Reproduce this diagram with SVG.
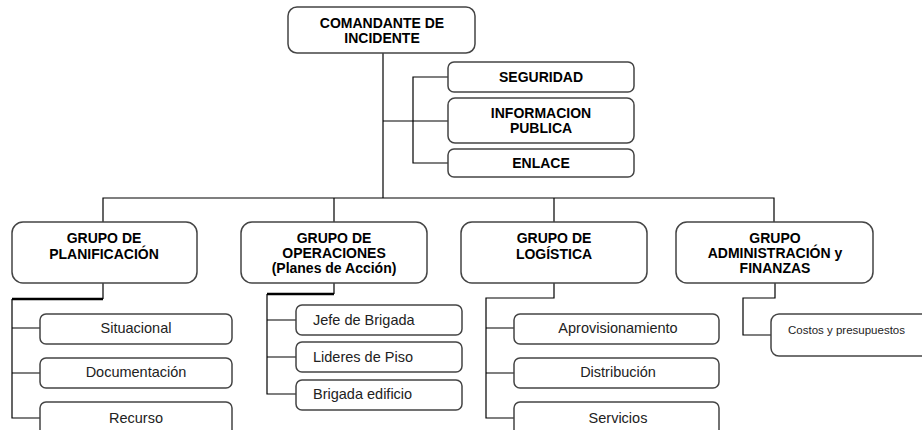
<svg xmlns="http://www.w3.org/2000/svg" width="922" height="430" viewBox="0 0 922 430">
<style>
.box{fill:#fff;stroke:#444;stroke-width:1.5}
.ln{fill:none;stroke:#000;stroke-width:1.2}
.thick{fill:none;stroke:#000;stroke-width:2.5}
.t{font-family:"Liberation Sans",Arial,sans-serif;font-weight:bold;font-size:14px;fill:#000;text-anchor:middle;dominant-baseline:central}
.s{font-family:"Liberation Sans",Arial,sans-serif;font-size:14.5px;fill:#222;text-anchor:middle;dominant-baseline:central}
.sl{font-family:"Liberation Sans",Arial,sans-serif;font-size:14.5px;fill:#222;dominant-baseline:central}
</style>
<rect width="922" height="430" fill="#fff"/>
<g id="connectors">
<path class="ln" d="M383,53V198"/>
<path class="ln" d="M448,77H413V163H448"/>
<path class="ln" d="M383,121H448"/>
<path class="ln" d="M103,222V198H774V222M334,198V222M554,198V222"/>
<path class="ln" d="M103,283V299"/>
<path class="thick" d="M103,299H12"/>
<path class="ln" d="M12,299V418H40M12,328H40M12,373H40"/>
<path class="ln" d="M334,283V294"/>
<path class="thick" d="M334,294H267"/>
<path class="ln" d="M267,294V394H296M267,320H296M267,357H296"/>
<path class="ln" d="M554,283V298H486V418H514M486,328H514M486,373H514"/>
<path class="ln" d="M775,283V298H743V335H771"/>
</g>
<g id="comandante">
<rect class="box" x="288" y="7" width="187" height="46" rx="9"/>
<text class="t" x="382" y="23">COMANDANTE DE</text>
<text class="t" x="382" y="37.5">INCIDENTE</text>
</g>
<g id="seguridad">
<rect class="box" x="448" y="62" width="186" height="30" rx="6"/>
<text class="t" x="541" y="77">SEGURIDAD</text>
</g>
<g id="informacion">
<rect class="box" x="448" y="98" width="186" height="45" rx="7"/>
<text class="t" x="541" y="113">INFORMACION</text>
<text class="t" x="541" y="127.5">PUBLICA</text>
</g>
<g id="enlace">
<rect class="box" x="448" y="149" width="186" height="28" rx="6"/>
<text class="t" x="541" y="163">ENLACE</text>
</g>
<g id="planificacion">
<rect class="box" x="12" y="222" width="185" height="61" rx="11"/>
<text class="t" x="104" y="238">GRUPO DE</text>
<text class="t" x="104" y="254">PLANIFICACIÓN</text>
</g>
<g id="operaciones">
<rect class="box" x="241" y="222" width="186" height="61" rx="11"/>
<text class="t" x="334" y="238">GRUPO DE</text>
<text class="t" x="334" y="253">OPERACIONES</text>
<text class="t" x="334" y="268">(Planes de Acción)</text>
</g>
<g id="logistica">
<rect class="box" x="461" y="222" width="186" height="61" rx="11"/>
<text class="t" x="554" y="238">GRUPO DE</text>
<text class="t" x="554" y="254">LOGÍSTICA</text>
</g>
<g id="administracion">
<rect class="box" x="676" y="222" width="197" height="61" rx="11"/>
<text class="t" x="775" y="238">GRUPO</text>
<text class="t" x="775" y="253">ADMINISTRACIÓN y</text>
<text class="t" x="775" y="268">FINANZAS</text>
</g>
<g id="situacional">
<rect class="box" x="40" y="314" width="192" height="30" rx="6"/>
<text class="s" x="136" y="328">Situacional</text>
</g>
<g id="documentacion">
<rect class="box" x="40" y="358" width="192" height="30" rx="6"/>
<text class="s" x="136" y="372">Documentación</text>
</g>
<g id="recurso">
<rect class="box" x="40" y="402" width="192" height="40" rx="6"/>
<text class="s" x="136" y="418">Recurso</text>
</g>
<g id="jefe">
<rect class="box" x="296" y="305" width="166" height="30" rx="6"/>
<text class="sl" x="313" y="320">Jefe de Brigada</text>
</g>
<g id="lideres">
<rect class="box" x="296" y="342" width="166" height="30" rx="6"/>
<text class="sl" x="313" y="357">Lideres de Piso</text>
</g>
<g id="brigada">
<rect class="box" x="296" y="380" width="166" height="30" rx="6"/>
<text class="sl" x="313" y="394">Brigada edificio</text>
</g>
<g id="aprovisionamiento">
<rect class="box" x="514" y="314" width="205" height="30" rx="6"/>
<text class="s" x="618" y="328">Aprovisionamiento</text>
</g>
<g id="distribucion">
<rect class="box" x="514" y="358" width="205" height="30" rx="6"/>
<text class="s" x="618" y="372">Distribución</text>
</g>
<g id="servicios">
<rect class="box" x="514" y="402" width="205" height="40" rx="6"/>
<text class="s" x="618" y="418">Servicios</text>
</g>
<g id="costos">
<rect class="box" x="771" y="314" width="160" height="42" rx="8"/>
<text class="sl" x="788" y="330" style="font-size:11.5px">Costos y presupuestos</text>
</g>
</svg>
